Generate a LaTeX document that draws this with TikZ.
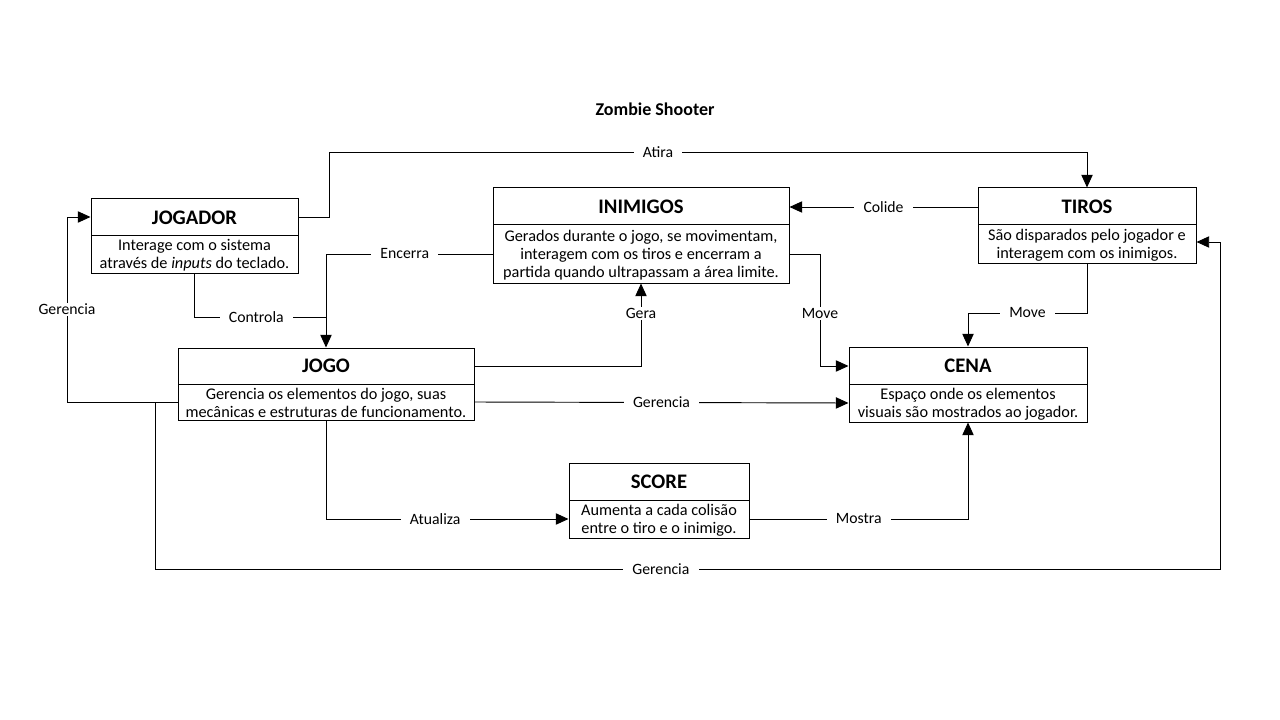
\documentclass[tikz,border=0pt]{standalone}
\usepackage{fontspec}
\setmainfont{Carlito}
\usetikzlibrary{arrows.meta,fit,calc}
\newcommand\mkbox[8]{%
  \node[box, fit={(#2,#3) (#4,#5)}] (#1) {};
  \draw[line width=0.75pt] (#2,#6) -- (#4,#6);
  \node[hdr] at ({(#2+#4)/2},{(#3+#6)/2}) {#7};
  \node[desc] at ({(#2+#4)/2},{(#6+#5)/2+1}) {#8};
}
\begin{document}
\begin{tikzpicture}[x=0.75pt,y=-0.75pt,
  box/.style={draw, line width=0.75pt, inner sep=0pt},
  conn/.style={draw, line width=0.7pt, -{Triangle[length=9.5pt,width=8.5pt]}},
  plain/.style={draw, line width=0.7pt},
  lbl/.style={fill=white, inner xsep=7pt, inner ysep=1pt, font=\fontsize{11.8}{13.5}\selectfont},
  hdr/.style={font=\fontsize{15.5}{18}\selectfont\bfseries},
  desc/.style={align=center, font=\fontsize{12.2}{13.5}\selectfont, inner sep=0pt}]
\useasboundingbox (0,0) rectangle (1280,720);
\node[font=\fontsize{13.5}{16}\selectfont\bfseries] (title) at (655,109) {Zombie Shooter};

\mkbox{jogador}{91}{199}{298}{273}{236}{JOGADOR}{Interage com o sistema\\através de \textit{inputs} do teclado.}
\mkbox{inimigos}{493}{188}{789}{283}{225}{INIMIGOS}{Gerados durante o jogo, se movimentam,\\interagem com os tiros e encerram a\\partida quando ultrapassam a área limite.}
\mkbox{tiros}{978}{188}{1196}{263}{225}{TIROS}{São disparados pelo jogador e\\interagem com os inimigos.}
\mkbox{jogo}{178}{348}{474}{420}{384}{JOGO}{Gerencia os elementos do jogo, suas\\mecânicas e estruturas de funcionamento.}
\mkbox{cena}{849}{347}{1087}{422}{384}{CENA}{Espaço onde os elementos\\visuais são mostrados ao jogador.}
\mkbox{score}{569}{463}{749}{538}{500}{SCORE}{Aumenta a cada colisão\\entre o tiro e o inimigo.}

\coordinate (jct) at (155,402);

\draw[conn] (jogador.east |- 0,217) -- (329,217) -- (329,152) -- node[lbl,pos=0.434]{Atira} (tiros.north |- 0,152) -- (tiros.north);
\draw[conn] (tiros.west |- 0,207) -- node[lbl]{Colide} (inimigos.east |- 0,207);
\draw[conn] (inimigos.west |- 0,254) -- node[lbl,pos=0.527]{Encerra} (jogo.north |- 0,254) -- (jogo.north);
\draw[plain] (jogador.south) -- (jogador.south |- 0,317) -- node[lbl,pos=0.47]{Controla} (jogo.north |- 0,317);
\draw[conn] (jogo.east |- 0,366) -- (inimigos.south |- 0,366) -- node[lbl,pos=0.64]{Gera} (inimigos.south);
\draw[conn] (inimigos.east |- 0,254) -- (820,254) -- node[lbl,pos=0.53]{Move} (820,366) -- (cena.west |- 0,366);
\draw[conn] (tiros.south) -- (tiros.south |- 0,313) -- node[lbl]{Move} (cena.north |- 0,313) -- (cena.north);
\draw[conn] (jogo.east |- 0,402) -- node[lbl]{Gerencia} (cena.west |- 0,403);
\draw[conn] (jogo.west |- 0,402) -- (67,402) -- node[lbl]{Gerencia} (67,217) -- (jogador.west |- 0,217);
\draw[conn] (jct) -- (155,569) -- node[lbl,pos=0.475]{Gerencia} (1220,569) -- (1220,242) -- (tiros.east |- 0,242);
\draw[conn] (score.east |- 0,519) -- node[lbl]{Mostra} (cena.south |- 0,519) -- (cena.south);
\draw[conn] (jogo.south) -- (jogo.south |- 0,519) -- node[lbl,pos=0.45]{Atualiza} (score.west |- 0,519);
\end{tikzpicture}
\end{document}
